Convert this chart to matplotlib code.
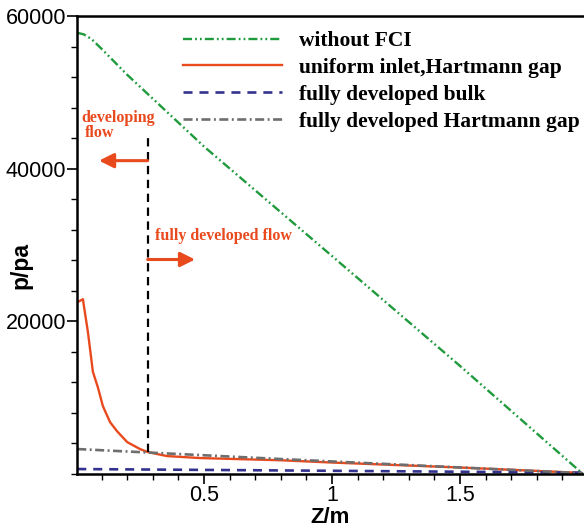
import matplotlib
matplotlib.use("Agg")
import matplotlib.pyplot as plt
from matplotlib.ticker import MultipleLocator, FixedLocator, FixedFormatter

plt.rcParams['lines.scale_dashes'] = False

# pressure along the duct
z_nofci = [0.005, 0.03, 0.06, 0.1, 0.2, 0.5, 1.0, 1.5, 1.98]
p_nofci = [57800, 57600, 57000, 55700, 52300, 42900, 28550, 14150, 0]

z_uniform = [0.005, 0.027, 0.047, 0.066, 0.086, 0.105, 0.133, 0.16, 0.2, 0.25,
             0.28, 0.355, 0.484, 0.8, 1.0, 1.5, 1.97]
p_uniform = [22500, 22900, 18500, 13400, 11300, 8900, 6800, 5620, 4180, 3270,
             2876, 2350, 2090, 1800, 1500, 850, 150]

z_bulk = [0.005, 1.0, 1.98]
p_bulk = [650, 420, 180]

z_hgap = [0.005, 0.8, 1.98]
p_hgap = [3270, 1960, 100]

z_split = 0.28
p_split = [2876, 44400]

labels = ["without FCI", "uniform inlet,Hartmann gap",
          "fully developed bulk", "fully developed Hartmann gap"]
ytick_vals = [20000, 40000, 60000]
xtick_vals = [0.5, 1.0, 1.5]
xtick_labels = ["0.5", "1", "1.5"]

green = "#1f9a3c"
red = "#e84a1e"
blue = "#33338f"
gray = "#6e6e6e"
serif = "Liberation Serif"

fig = plt.figure(figsize=(5.84, 5.28), dpi=100)
ax = fig.add_axes([77 / 584, 54 / 528, 507 / 584, 458 / 528])

ax.plot(z_nofci, p_nofci, color=green, lw=1.7,
        dashes=(6.5, 2.2, 1.3, 2.2, 1.3, 2.2), label=labels[0])
ax.plot(z_uniform, p_uniform, color=red, lw=1.7, label=labels[1])
ax.plot(z_bulk, p_bulk, color=blue, lw=1.9, dashes=(6.5, 5.0), label=labels[2])
ax.plot(z_hgap, p_hgap, color=gray, lw=1.9, dashes=(6.5, 2.5, 1.4, 2.5),
        label=labels[3])
ax.plot([z_split, z_split], p_split, color="black", lw=1.6, dashes=(6, 4))

# developing / fully developed markers
ax.annotate("", xy=(0.09, 41050), xytext=(z_split, 41050),
            arrowprops=dict(arrowstyle="-|>", color=red, lw=2.2,
                            mutation_scale=22, shrinkA=0, shrinkB=0))
ax.annotate("", xy=(0.465, 28100), xytext=(z_split, 28100),
            arrowprops=dict(arrowstyle="-|>", color=red, lw=2.2,
                            mutation_scale=22, shrinkA=0, shrinkB=0))
ax.text(0.02, 46700, "developing", color=red, fontsize=11.5, fontweight="bold",
        family=serif, ha="left", va="center")
ax.text(0.035, 44650, "flow", color=red, fontsize=11.5, fontweight="bold",
        family=serif, ha="left", va="center")
ax.text(0.309, 31240, "fully developed flow", color=red, fontsize=11.5,
        fontweight="bold", family=serif, ha="left", va="center")

ax.set_xlim(0.004, 1.984)
ax.set_ylim(0, 60000)
ax.xaxis.set_major_locator(FixedLocator(xtick_vals))
ax.xaxis.set_major_formatter(FixedFormatter(xtick_labels))
ax.xaxis.set_minor_locator(MultipleLocator(0.1))
ax.yaxis.set_major_locator(FixedLocator(ytick_vals))
ax.yaxis.set_major_formatter(FixedFormatter([str(v) for v in ytick_vals]))
ax.yaxis.set_minor_locator(MultipleLocator(4000))
ax.tick_params(which="major", direction="out", length=7, width=1.2,
               labelsize=15.5, pad=1)
ax.tick_params(which="minor", direction="out", length=4, width=1)
for lab in ax.get_xticklabels() + ax.get_yticklabels():
    lab.set_family("Liberation Sans")

ax.spines["right"].set_visible(False)
for s in ["left", "bottom", "top"]:
    ax.spines[s].set_linewidth(1.8)

ax.set_xlabel("Z/m", fontsize=16, fontweight="bold", family="Liberation Sans")
ax.set_ylabel("p/pa", fontsize=16.5, fontweight="bold", family="Liberation Sans")
ax.xaxis.set_label_coords(0.5, -0.071)
ax.yaxis.set_label_coords(-0.088, 0.456)

ax.legend(loc="upper left", bbox_to_anchor=(183 / 584, 1 - 31 / 528),
          bbox_transform=fig.transFigure, frameon=False, borderpad=0,
          borderaxespad=0, handlelength=4.6, handletextpad=0.8,
          labelspacing=0.32, prop=dict(family=serif, weight="bold", size=15.5))

fig.savefig("out.png", dpi=100)
